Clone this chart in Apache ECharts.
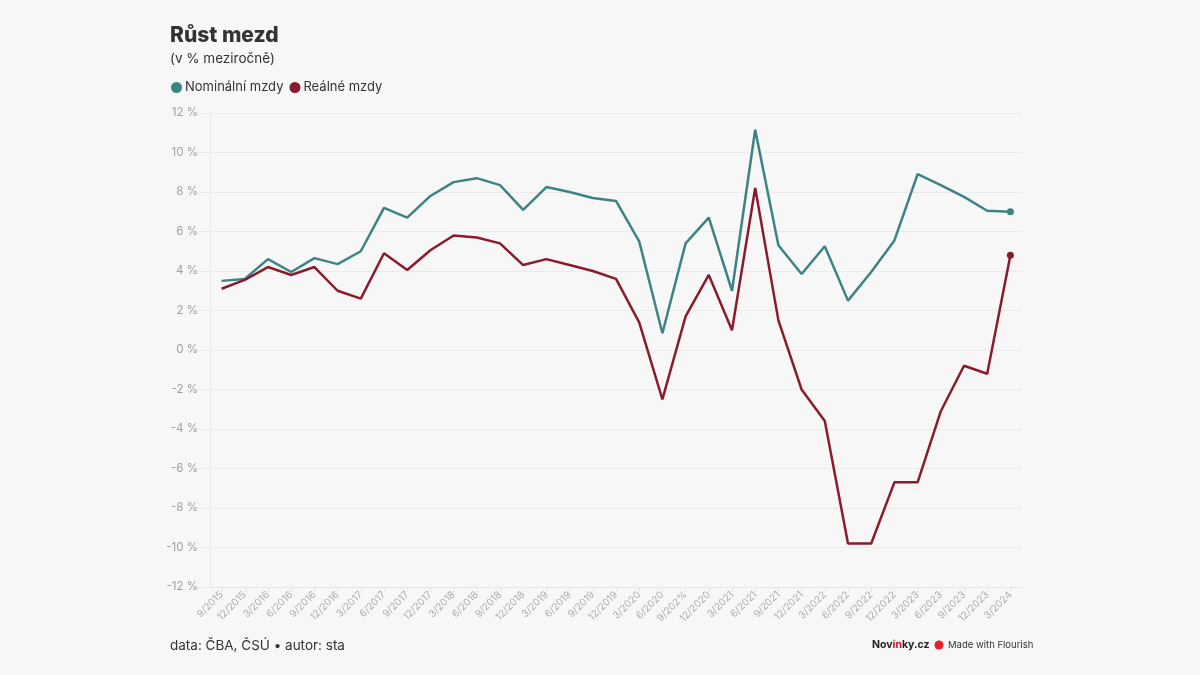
<!DOCTYPE html>
<html><head><meta charset="utf-8">
<script src="https://cdn.jsdelivr.net/npm/echarts@6/dist/echarts.min.js"></script>
<style>html,body{margin:0;padding:0;background:#f7f7f7}#c{width:1200px;height:675px}</style>
</head><body><div id="c"></div>
<script>
const categories = ['9/2015','12/2015','3/2016','6/2016','9/2016','12/2016','3/2017','6/2017','9/2017','12/2017','3/2018','6/2018','9/2018','12/2018','3/2019','6/2019','9/2019','12/2019','3/2020','6/2020','9/202%','12/2020','3/2021','6/2021','9/2021','12/2021','3/2022','6/2022','9/2022','12/2022','3/2023','6/2023','9/2023','12/2023','3/2024'];
const nominal = [3.5,3.6,4.6,3.95,4.65,4.35,5.0,7.2,6.7,7.8,8.5,8.7,8.35,7.1,8.25,8.0,7.7,7.55,5.5,0.85,5.4,6.7,3.0,11.15,5.3,3.85,5.25,2.5,3.95,5.55,8.9,8.35,7.75,7.05,7.0];
const real = [3.1,3.55,4.2,3.8,4.2,3.0,2.6,4.9,4.05,5.05,5.8,5.7,5.4,4.3,4.6,4.3,4.0,3.6,1.4,-2.5,1.7,3.8,1.0,8.2,1.5,-2.0,-3.6,-9.8,-9.8,-6.7,-6.7,-3.1,-0.8,-1.2,4.8];
const seriesNames = ['Nominální mzdy','Reálné mzdy'];
const colors = ['#3d8383','#8a1b2d'];

const font = 'Inter, "Noto Sans", sans-serif';
function lastDot(arr){
  return arr.map((v,i)=> i===arr.length-1 ? {value:v, symbol:'circle', symbolSize:7} : {value:v, symbol:'none'});
}
const chart = echarts.init(document.getElementById('c'), null, {renderer:'canvas'});
chart.setOption({
  backgroundColor:'#f7f7f7',
  animation:false,
  textStyle:{fontFamily:font},
  title:{
    text:'Růst mezd', subtext:'(v % meziročně)', left:165, top:20, itemGap:6,
    textStyle:{fontFamily:font, fontSize:21, fontWeight:800, color:'#333'},
    subtextStyle:{fontFamily:font, fontSize:13.5, color:'#333'}
  },
  legend:{
    left:166, top:76, icon:'circle', itemWidth:11, itemHeight:11, itemGap:6,
    textStyle:{fontFamily:font, fontSize:13, color:'#333', padding:[0,0,0,-2]},
    data:seriesNames
  },
  grid:{left:210, right:178, top:113, bottom:88, containLabel:false},
  xAxis:{
    type:'category', data:categories, boundaryGap:true,
    axisLine:{show:true, onZero:false, lineStyle:{color:'#e6e6e6'}},
    axisTick:{show:true, alignWithLabel:true, length:5, lineStyle:{color:'#e6e6e6'}},
    axisLabel:{rotate:45, fontSize:10, color:'#adadad', margin:6, interval:0, fontFamily:font},
    splitLine:{show:false}
  },
  yAxis:{
    type:'value', min:-12, max:12, interval:2,
    axisLine:{show:true, lineStyle:{color:'#ebebeb'}},
    axisTick:{show:true, length:12, lineStyle:{color:'#ebebeb'}},
    axisLabel:{formatter:v=>v+' %', fontSize:11.5, color:'#a0a0a0', margin:12, fontFamily:font},
    splitLine:{show:true, lineStyle:{color:'#ebebeb'}}
  },
  series:[
    {name:seriesNames[0], type:'line', data:lastDot(nominal), color:colors[0], lineStyle:{width:2.5}, showSymbol:true, itemStyle:{color:colors[0]}},
    {name:seriesNames[1], type:'line', data:lastDot(real), color:colors[1], lineStyle:{width:2.5}, showSymbol:true, itemStyle:{color:colors[1]}}
  ],
  graphic:[
    {type:'text', left:170, top:639, style:{text:'data: ČBA, ČSÚ • autor: sta', font:'13.5px '+font, fill:'#333'}},
    {type:'text', left:872, top:639, style:{
      text:'{a|Nov}{b|in}{a|ky.cz}', font:'bold 10.5px '+font,
      rich:{a:{fill:'#222', font:'bold 10.5px '+font}, b:{fill:'#c8102e', font:'bold 10.5px '+font}}
    }},
    {type:'circle', shape:{cx:939, cy:645, r:4.5}, style:{fill:'#e8202a'}},
    {type:'text', left:948, top:640, style:{text:'Made with Flourish', font:'9.5px '+font, fill:'#333'}}
  ]
});
</script></body></html>
